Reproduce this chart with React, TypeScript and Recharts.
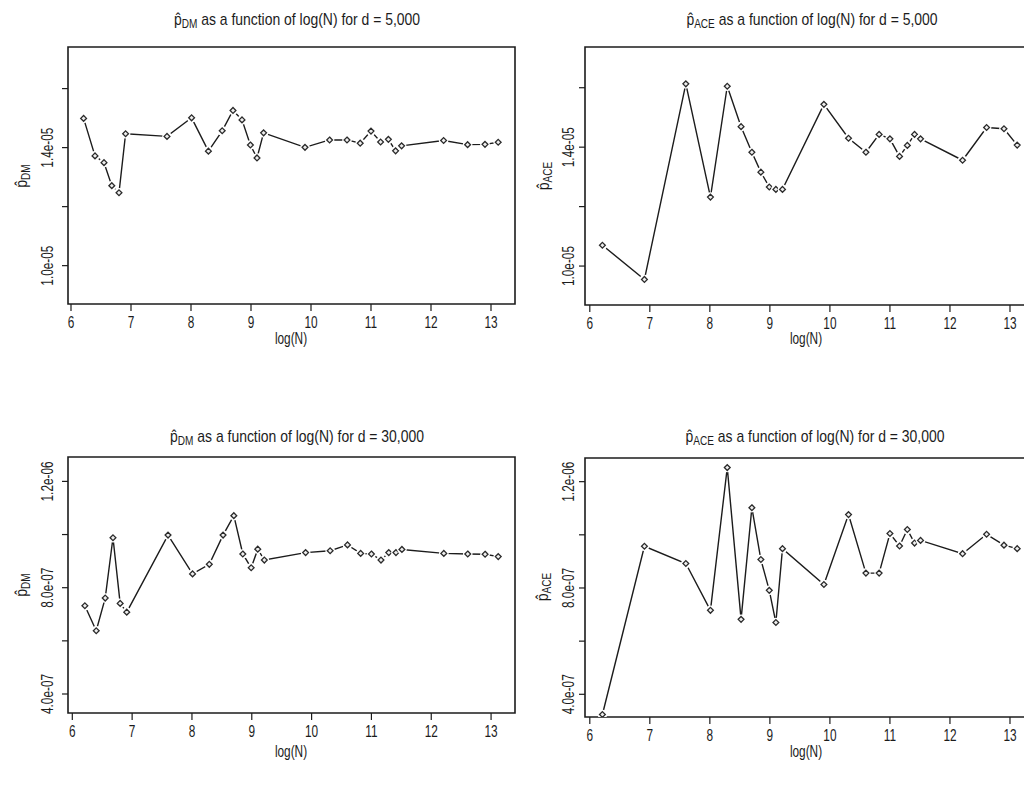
import React from 'react';
import { LineChart, Line, XAxis, YAxis, ReferenceArea } from 'recharts';

// ---- data ----
const logN_DM = [6.21, 6.40, 6.55, 6.68, 6.80, 6.91, 7.60, 8.01, 8.29, 8.52, 8.70, 8.85, 8.99, 9.10, 9.21, 9.90, 10.31, 10.60, 10.82, 11.00, 11.16, 11.29, 11.41, 11.51, 12.21, 12.61, 12.90, 13.12];
const logN_ACE = [6.21, 6.91, 7.60, 8.01, 8.29, 8.52, 8.70, 8.85, 8.99, 9.10, 9.21, 9.90, 10.31, 10.60, 10.82, 11.00, 11.16, 11.29, 11.41, 11.51, 12.21, 12.61, 12.90, 13.12];

const pDM_5000 = [1.499e-5, 1.372e-5, 1.349e-5, 1.271e-5, 1.247e-5, 1.447e-5, 1.438e-5, 1.501e-5, 1.388e-5, 1.457e-5, 1.526e-5, 1.494e-5, 1.409e-5, 1.365e-5, 1.450e-5, 1.401e-5, 1.426e-5, 1.426e-5, 1.415e-5, 1.456e-5, 1.419e-5, 1.428e-5, 1.389e-5, 1.406e-5, 1.424e-5, 1.410e-5, 1.411e-5, 1.418e-5];
const pACE_5000 = [1.070e-5, 0.955e-5, 1.613e-5, 1.232e-5, 1.605e-5, 1.469e-5, 1.383e-5, 1.316e-5, 1.266e-5, 1.258e-5, 1.258e-5, 1.544e-5, 1.430e-5, 1.383e-5, 1.443e-5, 1.428e-5, 1.369e-5, 1.406e-5, 1.443e-5, 1.428e-5, 1.356e-5, 1.466e-5, 1.462e-5, 1.407e-5];
const pDM_30000 = [7.32e-7, 6.38e-7, 7.61e-7, 9.88e-7, 7.41e-7, 7.08e-7, 9.98e-7, 8.52e-7, 8.88e-7, 9.98e-7, 10.71e-7, 9.27e-7, 8.75e-7, 9.45e-7, 9.04e-7, 9.32e-7, 9.39e-7, 9.61e-7, 9.29e-7, 9.27e-7, 9.04e-7, 9.32e-7, 9.32e-7, 9.44e-7, 9.29e-7, 9.27e-7, 9.26e-7, 9.17e-7];
const pACE_30000 = [3.24e-7, 9.57e-7, 8.92e-7, 7.16e-7, 12.53e-7, 6.82e-7, 11.02e-7, 9.07e-7, 7.91e-7, 6.70e-7, 9.48e-7, 8.13e-7, 10.76e-7, 8.56e-7, 8.56e-7, 10.05e-7, 9.58e-7, 10.20e-7, 9.69e-7, 9.79e-7, 9.29e-7, 10.02e-7, 9.61e-7, 9.48e-7];

const xTicks = [6, 7, 8, 9, 10, 11, 12, 13];
const yTicks5000 = [1.0e-5, 1.2e-5, 1.4e-5, 1.6e-5];
const yTickLabels5000 = ['1.0e-05', '', '1.4e-05', ''];
const yTicks30000 = [4e-7, 6e-7, 8e-7, 1.0e-6, 1.2e-6];
const yTickLabels30000 = ['4.0e-07', '', '8.0e-07', '', '1.2e-06'];

const FONT = "'Liberation Sans', Arial, sans-serif";
const INK = '#1c1c1c';
const SQ = 0.74; // horizontal squeeze to mimic a narrow font

const toRows = (xs: number[], ys: number[]) => xs.map((x, i) => ({ x, y: ys[i] }));

const Dot = (props: any) => {
  const { cx, cy, index } = props;
  if (cx == null || cy == null) return null;
  const s = 2.9;
  return (
    <g key={`d${index}`}>
      <circle cx={cx} cy={cy} r={4.8} fill="#fff" />
      <path d={`M${cx},${cy - s} L${cx + s},${cy} L${cx},${cy + s} L${cx - s},${cy} Z`} fill="#eee" stroke="#2a2a2a" strokeWidth={1.3} />
    </g>
  );
};

const XTick = (props: any) => {
  const { x, y, payload } = props;
  return (
    <text transform={`translate(${x} ${y}) scale(${SQ} 1)`} x={0} y={0} dy="0.71em" textAnchor="middle"
      fill={INK} fontSize={16} fontFamily={FONT}>{payload.value}</text>
  );
};

const makeYTick = (ticks: number[], labels: string[], offset: number) => (props: any) => {
  const { x, y, payload } = props;
  const i = ticks.findIndex((t) => Math.abs(t - payload.value) < 1e-12);
  const label = i >= 0 ? labels[i] : '';
  if (!label) return <g />;
  const cx = x - offset;
  return (
    <text transform={`translate(${cx} ${y}) rotate(-90) scale(${SQ} 1)`} x={0} y={0} textAnchor="middle"
      dominantBaseline="central" fill={INK} fontSize={16} fontFamily={FONT}>{label}</text>
  );
};

const PHat = ({ sub }: { sub: string }) => (
  <span>
    <span>{'p\u0302'}</span>
    <span style={{ fontSize: '0.72em', position: 'relative', top: '0.22em' }}>{sub}</span>
  </span>
);

type PanelProps = {
  left: number; top: number; width: number; height: number;
  margin: { top: number; right: number; bottom: number; left: number };
  yAxisWidth: number; xAxisHeight: number;
  xDomain: [number, number]; yDomain: [number, number];
  data: { x: number; y: number }[];
  yTicks: number[]; yLabels: string[]; yTickOffset: number;
};

const Panel = (p: PanelProps) => (
  <div style={{ position: 'absolute', left: p.left, top: p.top }}>
    <LineChart width={p.width} height={p.height} data={p.data} margin={p.margin}>
      <XAxis type="number" dataKey="x" domain={p.xDomain} ticks={xTicks} allowDataOverflow
        axisLine={false} tickSize={7} tickMargin={6} height={p.xAxisHeight}
        tickLine={{ stroke: INK, strokeWidth: 1.2 }} tick={<XTick />} interval={0} />
      <YAxis type="number" domain={p.yDomain} ticks={p.yTicks} allowDataOverflow
        axisLine={false} tickSize={6} tickMargin={0} width={p.yAxisWidth}
        tickLine={{ stroke: INK, strokeWidth: 1.2 }}
        tick={makeYTick(p.yTicks, p.yLabels, p.yTickOffset)} interval={0} />
      <ReferenceArea x1={p.xDomain[0]} x2={p.xDomain[1]} y1={p.yDomain[0]} y2={p.yDomain[1]}
        fill="none" fillOpacity={0} stroke={INK} strokeWidth={1.6} ifOverflow="visible" />
      <Line type="linear" dataKey="y" stroke={INK} strokeWidth={1.4} isAnimationActive={false}
        dot={<Dot />} activeDot={false} />
    </LineChart>
  </div>
);

const textBase: React.CSSProperties = { position: 'absolute', fontFamily: FONT, color: INK, whiteSpace: 'nowrap', lineHeight: 1 };

const Title = ({ cx, cy, sub, d }: { cx: number; cy: number; sub: string; d: string }) => (
  <div style={{ ...textBase, left: cx, top: cy, transform: `translate(-50%, -50%) scaleX(0.82)`, fontSize: 17 }}>
    <PHat sub={sub} /> as a function of log(N) for d = {d}
  </div>
);

const YLab = ({ cx, cy, sub }: { cx: number; cy: number; sub: string }) => (
  <div style={{ ...textBase, left: cx, top: cy, transform: `translate(-50%, -50%) rotate(-90deg) scaleX(0.82)`, fontSize: 17 }}>
    <PHat sub={sub} />
  </div>
);

const XLab = ({ cx, cy }: { cx: number; cy: number }) => (
  <div style={{ ...textBase, left: cx, top: cy, transform: `translate(-50%, -50%) scaleX(${SQ})`, fontSize: 16 }}>log(N)</div>
);

export default function App() {
  return (
    <div style={{ position: 'absolute', left: 0, top: 0, width: 1024, height: 790, overflow: 'hidden', background: '#fff' }}>
      <Panel left={0} top={30} width={520} height={320} margin={{ top: 17, right: 5, bottom: 0, left: 8 }}
        yAxisWidth={60} xAxisHeight={46} xDomain={[5.95, 13.4]} yDomain={[0.870e-5, 1.741e-5]}
        data={toRows(logN_DM, pDM_5000)} yTicks={yTicks5000} yLabels={yTickLabels5000} yTickOffset={15} />
      <Panel left={520} top={30} width={520} height={320} margin={{ top: 17, right: 6, bottom: 0, left: 8 }}
        yAxisWidth={57} xAxisHeight={45} xDomain={[5.92, 13.4]} yDomain={[0.869e-5, 1.737e-5]}
        data={toRows(logN_ACE, pACE_5000)} yTicks={yTicks5000} yLabels={yTickLabels5000} yTickOffset={11} />
      <Panel left={0} top={440} width={520} height={320} margin={{ top: 17, right: 5, bottom: 0, left: 8 }}
        yAxisWidth={60} xAxisHeight={47} xDomain={[5.928, 13.4]} yDomain={[3.285e-7, 12.918e-7]}
        data={toRows(logN_DM, pDM_30000)} yTicks={yTicks30000} yLabels={yTickLabels30000} yTickOffset={15} />
      <Panel left={520} top={440} width={520} height={320} margin={{ top: 18, right: 6, bottom: 0, left: 8 }}
        yAxisWidth={57} xAxisHeight={43} xDomain={[5.92, 13.4]} yDomain={[3.146e-7, 12.89e-7]}
        data={toRows(logN_ACE, pACE_30000)} yTicks={yTicks30000} yLabels={yTickLabels30000} yTickOffset={11} />

      <Title cx={297} cy={19} sub="DM" d="5,000" />
      <Title cx={812} cy={19} sub="ACE" d="5,000" />
      <Title cx={297} cy={436} sub="DM" d="30,000" />
      <Title cx={815} cy={436} sub="ACE" d="30,000" />

      <YLab cx={21} cy={176} sub="DM" />
      <YLab cx={543} cy={176} sub="ACE" />
      <YLab cx={21} cy={585} sub="DM" />
      <YLab cx={542} cy={587} sub="ACE" />

      <XLab cx={291} cy={339} />
      <XLab cx={806} cy={339} />
      <XLab cx={291} cy={752} />
      <XLab cx={806} cy={752} />
    </div>
  );
}
